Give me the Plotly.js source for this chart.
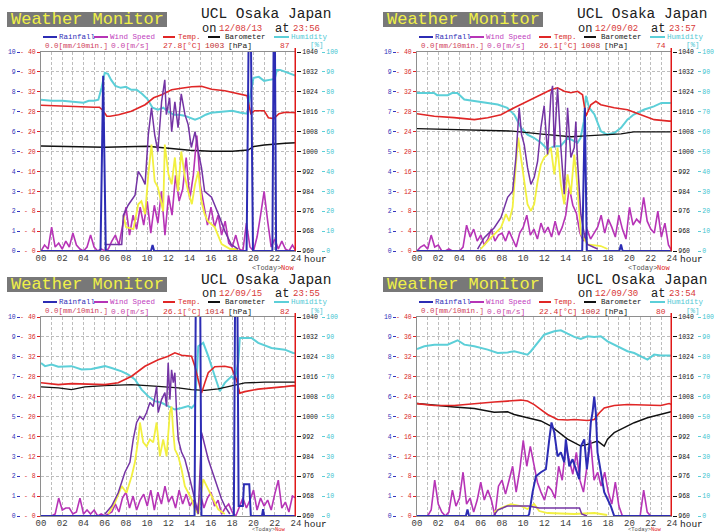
<!DOCTYPE html>
<html><head><meta charset="utf-8">
<script src="https://cdn.plot.ly/plotly-3.0.1.min.js"></script>
<style>html,body{margin:0;padding:0;background:#fff}#chart{width:715px;height:532px}</style>
</head><body><div id="chart"></div>
<script>
// ---------- tick labels ----------
const hourTicks  = [0,2,4,6,8,10,12,14,16,18,20,22,24];
const hourLabels = ["00","02","04","06","08","10","12","14","16","18","20","22","24"];

// ---------- header values ----------
const panelDates = ["12/08/13","12/09/02","12/09/15","12/09/30"];
const panelTimes = ["23:56","23:57","23:55","23:54"];
const nowRain = ["0.0","0.0","0.0","0.0"];
const nowWind = ["0.0","0.0","0.0","0.0"];
const nowTemp = ["27.8","26.1","26.1","22.4"];
const nowBaro = ["1003","1008","1014","1002"];
const nowHum  = ["87","74","82","80"];

// ---------- panel 1 (12/08/13) ----------
const p1HumHours = [0,1,2,3,3.5,4,4.5,5,5.4,5.7,6,6.3,6.6,7,7.5,8,8.5,9,9.5,10,10.5,11,11.5,12,12.5,13,13.5,14,14.5,15,15.5,16,17,18,18.8,19.4,19.75,20,20.5,21,21.5,22,22.2,22.5,23,23.5,24];
const p1Hum = [76,75.5,75.5,75,74.5,74.5,75.5,75.5,76,82,89.5,89,86,83,82,82.5,81,81,79,76.5,72,71,72,70,68.5,68.5,68,67,66,67,68.5,69.5,70,70.5,69.5,69,80,87,87.5,85.5,86,86.5,91,91,90,89,88];
const p1TempHours = [0,1,2,3,4,5,5.5,5.8,6.2,6.5,7.3,8.5,9.8,10.6,11.35,12.3,13.2,14.2,15.1,16.05,17.3,18.55,19.4,19.6,19.75,20.1,21.0,21.4,21.9,22.4,23,24];
const p1Temp = [29.3,29.2,29.2,29.1,29.0,28.9,28.9,28.3,27.1,27.1,27.4,28.1,29.4,30.8,31.4,32.4,32.7,33.0,33.1,32.5,32.2,31.6,31.2,29.0,27.6,28.2,28.2,26.8,26.6,27.6,27.9,27.8];
const p1BaroHours = [0,2,4,6,8,10,12,14,16,18,19.5,20,21,22,23,24];
const p1Baro = [1002.2,1002.0,1001.8,1001.7,1001.9,1002.1,1001.3,1000.5,1000.1,1000.1,1000.6,1002.0,1002.6,1003.1,1003.3,1003.5];
const p1RainHours = [0,5.6,5.85,6.1,10.35,10.5,10.65,19.35,19.6,19.7,19.95,21.78,21.93,21.98,22.13,24];
const p1Rain = [0,0,8.8,0,0,0.3,0,0,14,14,0,0,14,14,0,0];
const p1GustHours = [6.0,7.6,7.75,8.2,8.85,9.15,9.5,9.8,10.1,10.4,10.7,11.0,11.35,11.65,11.8,12.1,12.3,12.6,12.9,13.2,13.55,13.85,14.15,14.5,14.8,15.1,15.4,16.05,16.7,17.3,17.9,18.55];
const p1Gust = [0.33,0.33,1.8,2.3,2.8,4.0,3.7,3.35,5.85,7.2,5.85,5.0,7.5,8.6,6.85,7.7,6.0,7.5,6.2,7.9,6.85,6.35,5.2,6.0,5.0,4.2,3.0,2.7,1.85,1.0,0.33,0.1];
const p1SunHours = [7.75,8.0,8.7,9.15,9.45,9.8,10.1,10.4,10.7,11.0,11.5,11.65,12.0,12.3,12.6,12.9,13.2,13.55,13.85,14.2,14.5,14.8,15.1,15.4,15.7,16.35,17.0,17.8,18.55];
const p1Sun = [1.8,1.2,1.1,2.35,2.5,1.85,3.85,5.35,3.5,3.2,2.0,5.35,3.85,3.35,4.7,3.0,5.0,3.7,3.0,2.35,3.35,4.0,2.5,1.85,1.5,1.2,0.35,0.1,0.1];
const p1Wind = [0,0.3,0.1, 1.2,0.2,0.4, 0.1,0.5,0.2, 0.9,0.3,0.1, 0,0.2,0.8, 0.2,0,0.1, 0,0.1,0.5, 0.8,0.3,1.2, 2.2,0.8,1.8, 1.1,2.2,1.3, 2.5,0.9,2.3, 1.4,3.0,0.8, 2.8,1.8,3.8, 2.5,3.1,4.7, 2.6,3.8,5.8, 3.3,2.3,1.3, 2.2,1.2,1.8, 0.8,1.5,0.4, 0.2,0.8,0.1, 0,1.4,0.2, 0,0.7,1.8, 3.0,1.5,0.2, 0.6,0.1,0.5, 0.1,0,0.3, 0];

// ---------- panel 2 (12/09/02) ----------
const p2HumHours = [0,1.6,1.9,2.9,3.3,3.8,4.45,5.4,6.65,7.6,8.5,9.15,9.8,10.4,11.0,11.7,12.3,12.9,13.5,14.2,14.8,15.1,15.4,15.7,15.9,16.2,16.7,17.3,17.9,18.6,19.2,19.8,20.4,21.4,22.3,23,24];
const p2Hum = [79.4,79.4,78.3,78.3,79.4,79.4,76.1,75.3,74.4,73.6,71.9,68.6,61.9,58.5,56.9,54.3,51,52.7,52.7,56.9,55.2,54.3,56.9,65,78,72,68.6,60.2,58.5,59.4,61.9,66,68.6,71.1,72.7,74.4,74.4];
const p2TempHours = [0,1.63,3.5,5.4,6.65,7.9,9.15,10.4,11.66,12.6,13.23,13.86,14.48,15.11,15.58,15.9,16.36,16.83,17.3,18.56,19.81,21.07,22.32,23.73,24];
const p2Temp = [27.6,27.1,26.8,26.4,26.8,27.4,28.8,30.1,31.4,32.4,32.8,32.1,31.8,32.1,31.4,27.1,29.4,30.1,29.4,28.8,28.4,27.4,26.4,26.1,26.1];
const p2BaroHours = [0,3,6,9,12,13.5,14.5,15.5,17.3,19.2,20.4,24];
const p2Baro = [1009.2,1008.9,1008.8,1008.2,1006.9,1006.2,1005.9,1006.2,1006.6,1007.1,1007.9,1007.9];
const p2RainHours = [0,15.55,15.8,15.98,19.05,19.2,19.35,24];
const p2Rain = [0,0,7.2,0,0,0.33,0,0];
const p2GustHours = [5.7,6.33,7.27,7.9,8.53,9.0,9.31,9.62,9.84,10.09,10.4,10.72,11.03,11.35,11.66,11.97,12.29,12.45,12.6,12.76,12.92,13.23,13.54,13.86,14.17,14.48,14.8,14.95,15.11,15.42,15.74,16.05,17.0];
const p2Gust = [0.1,0.67,1.17,1.67,2.7,3.0,4.7,7.2,5.85,5.35,4.2,3.35,3.7,4.5,6.2,7.3,4.85,6.2,7.85,8.3,5.2,8.2,5.2,2.85,7.2,4.7,5.2,6.5,4.5,1.85,0.85,0.33,0.1];
const p2SunHours = [6.0,6.96,7.9,8.37,8.68,9.0,9.31,9.53,9.78,10.09,10.4,10.72,11.03,11.35,11.66,11.97,12.29,12.6,12.92,13.23,13.54,13.86,14.17,14.48,14.8,15.11,15.42,16.05,17.3,17.93];
const p2Sun = [0.1,0.67,1.17,1.85,1.5,2.2,4.35,5.7,4.7,3.5,2.35,2.0,2.35,3.5,4.35,4.7,4.85,5.2,3.85,5.2,3.35,2.35,3.85,2.85,4.85,3.2,0.85,0.33,0.25,0.1];
const p2Wind = [0,0.2,0.3, 0.1,0.8,0.2, 0.3,0,0, 0.1,0,0, 0,0.2,1.3, 0.7,1.1,0.5, 0.8,0.3,0.6, 1.1,0.5,0.8, 0.9,0.5,1.0, 0.6,0.2,0.9, 1.2,1.8,0.8, 1.1,0.6,1.4, 0.9,1.2,0.7, 1.5,0.8,1.2, 1.8,3.2,2.3, 1.9,0.9,0.5, 1.1,0.6,0.9, 1.2,1.8,0.9, 1.6,1.2,0.7, 1.8,1.1,0.6, 2.2,1.3,1.6, 1.4,2.7,1.5, 1.1,0.9,2.0, 0.7,1.4,0.3, 0];

// ---------- panel 3 (12/09/15) ----------
const p3HumHours = [0,0.38,1.0,1.63,2.88,3.82,4.76,6.02,6.65,7.59,8.21,8.84,9.47,10.09,10.72,11.35,11.97,12.6,13.23,13.86,14.17,14.48,14.65,14.8,15.27,15.74,16.36,16.83,17.3,17.93,18.24,18.56,18.71,19.81,20.44,21.69,22.95,23.73,24];
const p3Hum = [76.9,75.3,76.1,75,75.3,73.6,73.9,75.3,74.4,72.7,71.1,68.6,63.5,60.2,57.7,56.9,55.2,53.5,54.3,55.2,54.3,56,70,85.3,87,80.3,70.2,62.7,66.9,70.2,68.6,77,89.5,89.5,87,84.4,83.6,81.9,81.8];
const p3TempHours = [0,1.63,2.88,4.76,6.02,7.27,8.53,9.78,11.03,11.97,12.6,13.23,14.17,14.48,14.8,15.11,15.42,15.74,16.36,17.3,17.93,18.4,18.71,19.18,20.44,21.69,22.95,23.73,24];
const p3Temp = [26.8,26.4,26.6,26.4,26.4,26.8,28.1,30.1,31.4,32.1,32.8,32.3,32.1,30.1,27.4,24.7,26.8,28.8,30.0,30.1,29.8,27.4,24.7,25.0,25.5,25.7,26.0,26.2,26.1];
const p3BaroHours = [0,1.63,2.88,4.13,6.02,8.53,11.03,12.92,14.17,15.42,16.68,17.93,19.18,21.07,24];
const p3Baro = [1011.9,1011.5,1010.8,1011.9,1012.4,1012.8,1012.1,1011.5,1010.8,1010.5,1011.1,1012.4,1013.5,1013.8,1013.8];
const p3RainHours = [0,14.45,14.6,14.95,15.1,18.15,18.3,18.45,18.6,19.0,19.1,19.6,19.75,20.8,20.9,21.0,24];
const p3Rain = [0,0,14,14,0,0,14,14,0.5,0.5,1.6,1.6,0,0,0.35,0,0];
const p3GustHours = [6.02,6.65,7.27,7.59,7.9,8.37,8.68,9.0,9.31,9.62,9.94,10.25,10.56,10.88,11.03,11.35,11.66,11.82,11.97,12.13,12.29,12.45,12.6,12.76,12.92,13.23,13.54,13.86,14.17,14.48,14.8,15.11,15.42,15.74,16.05,16.36,16.68,16.99,17.3,17.77];
const p3Gust = [0.1,0.5,1.17,1.67,2.2,2.7,3.85,4.7,5.0,4.85,5.2,5.7,5.5,6.5,5.2,5.85,6.2,5.5,7.7,5.85,7.35,6.7,7.2,5.2,3.85,3.2,2.85,2.2,1.5,0.85,0.1,4.2,3.5,2.85,2.35,1.85,1.35,0.85,0.5,0.1];
const p3SunHours = [6.33,6.96,7.59,8.05,8.53,8.84,9.15,9.31,9.62,9.94,10.25,10.56,10.88,11.19,11.5,11.82,12.13,12.29,12.45,12.6,12.92,13.23,13.54,13.86,14.17,14.48,14.8,15.27,15.58,15.9,16.21,16.68,17.3];
const p3Sun = [0.1,0.67,1.5,1.17,2.0,2.7,3.85,4.7,3.7,3.5,3.85,3.7,4.7,3.0,3.85,3.0,5.2,5.5,4.2,3.35,3.0,2.35,1.5,1.17,0.85,0.33,0.1,1.85,1.5,1.17,0.85,0.33,0.1];
const p3Wind = [0,0,0, 0,0.1,0.9, 0.3,0.4,0.4, 0.1,0.2,0.9, 0.1,0.3,0.1, 0.3,0,0.1, 0,0.1,0.2, 0.6,0.2,0.9, 1.2,0.4,1.0, 0.3,0.8,1.1, 0.5,1.3,0.3, 1.2,0.6,1.5, 0.7,1.0,0.4, 1.3,0.6,1.1, 0.5,0.8,0.2, 1.1,0.4,0.9, 1.2,0.5,0.8, 0.1,0.4,0.6, 0.2,0,0.5, 0.9,0.4,0.8, 1.3,0.3,0.9, 0.5,0.8,0.3, 1.1,1.8,0.4, 0.7,0.2,1.0, 0.9];

// ---------- panel 4 (12/09/30) ----------
const p4HumHours = [0,0.69,1.63,2.88,3.82,4.45,5.39,6.65,7.59,8.53,9.15,9.78,10.4,10.72,11.35,11.97,12.92,13.54,14.17,14.8,15.42,16.05,16.68,17.3,17.93,18.56,19.18,19.81,20.44,21.07,21.69,22.32,22.95,23.73,24];
const p4Hum = [83.9,85.3,86.1,86.1,88.3,86.1,85.3,83.6,81.9,82.2,82.8,81.9,81.1,82.8,87,91.1,92.8,93.3,91.6,90,89,90.3,90,90.3,87.8,86.1,84.4,82.8,81.9,80.3,78.6,81.1,80.6,80.6,80.5];
const p4TempHours = [0,1.63,3.5,5.39,7.27,8.53,9.78,10.4,11.03,11.66,12.29,13.23,14.17,14.8,15.42,16.05,16.68,17.15,17.62,18.56,19.81,21.69,22.95,23.73,24];
const p4Temp = [22.6,22.2,22.2,22.6,22.9,23.1,23.3,23.1,22.4,21.4,20.4,19.4,19.3,19.4,19.3,19.2,19.4,20.7,21.7,22.2,22.4,22.2,22.2,22.6,22.4];
const p4BaroHours = [0,1.63,3.5,5.39,7.27,8.53,9.15,10.4,11.66,12.6,13.54,14.17,14.8,15.42,16.05,17.0,17.62,17.93,18.56,19.5,20.44,21.69,22.95,23.73,24];
const p4Baro = [1005.2,1004.5,1003.8,1003.2,1001.7,1001.9,1000.8,999.5,998.2,996.1,992.8,990.9,989.5,988.1,988.8,990.1,988.1,990.9,993.5,995.6,997.5,999.5,1000.9,1001.7,1002.0];
const p4RainHours = [0,4.6,4.75,4.9,10.45,10.56,10.88,11.19,11.66,12.13,12.45,12.66,12.92,13.23,13.54,13.86,14.01,14.33,14.64,14.95,15.27,15.42,15.74,15.99,16.21,16.36,16.52,16.68,16.83,16.99,17.3,17.62,17.93,18.24,18.56,24];
const p4Rain = [0,0,0.33,0,0,0.1,1.2,2.0,2.2,2.35,3.85,4.7,4.2,3.0,3.2,2.7,3.85,2.5,2.85,2.35,1.85,3.5,3.85,2.35,3.5,4.7,5.2,6.0,5.2,3.2,2.2,1.2,0.85,0.5,0,0];
const p4GustHours = [7.2,7.6,8.5,10.5,11.5,15.3,15.5,16.0];
const p4Gust = [0,0.3,0.5,0.5,0.4,0.4,0.1,0];
const p4SunHours = [7.27,7.9,8.84,9.78,10.4,11.03,11.5,12.3,14.8,16.7,17.9];
const p4Sun = [0.2,0.4,0.6,0.5,0.35,0.6,0.25,0.15,0.1,0.15,0.05];
const p4Wind = [0,0,0, 0,0.3,1.8, 0.6,0.2,0, 0.2,1.3,0.5, 0.9,2.2,0.6, 0.9,0.2,0.8, 1.7,0.8,1.3, 0.8,0,1.5, 1.8,1.1,1.8, 2.5,1.2,2.3, 3.8,2.5,3.5, 2.6,1.7,1.2, 0.8,1.5,1.3, 0.9,2.5,1.8, 3.5,2.8,2.1, 3.2,1.8,1.2, 2.5,3.8,1.8, 2.2,1.5,2.2, 1.2,0.6,1.7, 0.5,0,0, 0,0,0, 0,1.3,0.2, 0,0,0, 0,0,0, 0];

// ---------- assemble ----------
const panels = [
  {hh:p1HumHours,h:p1Hum,th:p1TempHours,t:p1Temp,bh:p1BaroHours,b:p1Baro,rh:p1RainHours,r:p1Rain,gh:p1GustHours,g:p1Gust,sh:p1SunHours,s:p1Sun,w:p1Wind},
  {hh:p2HumHours,h:p2Hum,th:p2TempHours,t:p2Temp,bh:p2BaroHours,b:p2Baro,rh:p2RainHours,r:p2Rain,gh:p2GustHours,g:p2Gust,sh:p2SunHours,s:p2Sun,w:p2Wind},
  {hh:p3HumHours,h:p3Hum,th:p3TempHours,t:p3Temp,bh:p3BaroHours,b:p3Baro,rh:p3RainHours,r:p3Rain,gh:p3GustHours,g:p3Gust,sh:p3SunHours,s:p3Sun,w:p3Wind},
  {hh:p4HumHours,h:p4Hum,th:p4TempHours,t:p4Temp,bh:p4BaroHours,b:p4Baro,rh:p4RainHours,r:p4Rain,gh:p4GustHours,g:p4Gust,sh:p4SunHours,s:p4Sun,w:p4Wind}
];

const W = 715, H = 532;
const MONO = "Liberation Mono, DejaVu Sans Mono, monospace";
const origins = [[0,0],[376,0],[0,265],[376,265]];
const C = {rain:'#2c2cb4', wind:'#b634b6', gust:'#7434a4', sun:'#f2f040', temp:'#e02626', baro:'#111111', hum:'#5ccfd8', grid:'#bdbdbd', frame:'#8e8e8e'};
const GRIDDASH = '3px,2px';

const px = x => x / W;
const py = y => 1 - y / H;

const data = [];
const layout = {
  width: W, height: H, margin: {l:0, r:0, t:0, b:0},
  paper_bgcolor: '#ffffff', plot_bgcolor: '#ffffff', showlegend: false,
  shapes: [], annotations: []
};

function ann(p, text, x, y, color, size, xanchor) {
  const o = origins[p];
  layout.annotations.push({xref:'paper', yref:'paper', x: px(o[0]+x), y: py(o[1]+y), text: text,
    showarrow:false, xanchor: xanchor || 'left', yanchor:'middle', borderpad:0,
    font:{family:MONO, size:size, color:color}});
}
function seg(p, x0, x1, y, color) {
  const o = origins[p];
  layout.shapes.push({type:'line', xref:'paper', yref:'paper', x0:px(o[0]+x0), x1:px(o[0]+x1), y0:py(o[1]+y), y1:py(o[1]+y), line:{color:color, width:2}});
}

panels.forEach((d, p) => {
  const o = origins[p];
  const xi = p + 1;
  const yH = 4*p + 1, yB = 4*p + 2, yT = 4*p + 3, yR = 4*p + 4;
  const xa = 'x' + xi;
  const lowRow = o[1] > 0;
  const dom = [py(o[1] + 251), py(o[1] + 52)];
  const tf = (c) => ({family: MONO, size: 6.5, color: c});

  layout['xaxis' + (xi === 1 ? '' : xi)] = {
    domain: [px(o[0] + 41), px(o[0] + 296)], range: [0, 24], anchor: 'y' + yH,
    tickmode: 'array', tickvals: hourTicks, ticktext: hourLabels, ticks: '',
    tickfont: {family: MONO, size: 9, color: '#3a3a3a'}, ticklabelstandoff: -2,
    showgrid: true, gridcolor: C.grid, griddash: GRIDDASH, gridwidth: 1,
    minor: {dtick: 1, tick0: 0, showgrid: true, gridcolor: C.grid, griddash: GRIDDASH, ticks: ''},
    showline: true, linecolor: C.frame, linewidth: 1, mirror: true, zeroline: false, fixedrange: true
  };
  const yk = n => 'yaxis' + (n === 1 ? '' : n);
  layout[yk(yH)] = {
    domain: dom, range: [0, 100], dtick: 10, tick0: 0, anchor: 'free', position: px(o[0] + 321), side: 'right',
    showgrid: true, gridcolor: C.grid, griddash: GRIDDASH, zeroline: false, showline: false,
    ticks: 'outside', ticklen: 3, tickcolor: C.hum, tickfont: tf('#40c4d0'), fixedrange: true
  };
  layout[yk(yB)] = {
    domain: dom, overlaying: 'y' + yH, range: [960, 1040], dtick: 8, tick0: 960, anchor: xa, side: 'right',
    showgrid: false, zeroline: false, showline: false, ticks: 'outside', ticklen: 4, tickcolor: '#111',
    tickfont: tf('#111'), fixedrange: true
  };
  layout[yk(yT)] = {
    domain: dom, overlaying: 'y' + yH, range: [0, 40], dtick: 4, tick0: 0, anchor: xa, side: 'left',
    showgrid: false, zeroline: false, showline: true, linecolor: C.frame, linewidth: 1,
    ticks: 'outside', ticklen: 3, tickcolor: C.temp, tickprefix: '- ', tickfont: tf('#d82a2a'), fixedrange: true
  };
  layout[yk(yR)] = {
    domain: dom, overlaying: 'y' + yH, range: [0, 10], dtick: 1, tick0: 0, anchor: 'free', position: px(o[0] + 20), side: 'left',
    showgrid: false, zeroline: false, showline: false, ticks: 'outside', ticklen: 3, tickcolor: '#3636c0',
    tickfont: tf('#3030b8'), fixedrange: true
  };

  const L = (x, y, ax, color, width) => ({type: 'scatter', mode: 'lines', x: x, y: y, xaxis: xa, yaxis: 'y' + ax,
    line: {color: color, width: width}, hoverinfo: 'skip'});
  data.push(L(d.hh, d.h, yH, C.hum, 2));
  data.push(L(d.bh, d.b, yB, C.baro, 1.4));
  data.push(L(d.th, d.t, yT, C.temp, 1.6));
  data.push({type: 'scatter', mode: 'lines', x0: 0, dx: 1/3, y: d.w, xaxis: xa, yaxis: 'y' + yR,
    line: {color: C.wind, width: 1.6}, hoverinfo: 'skip'});
  data.push(L(d.sh, d.s, yR, C.sun, 1.8));
  data.push(L(d.gh, d.g, yR, C.gust, 1.5));
  data.push(L(d.rh, d.r, yR, C.rain, 2));

  // "now" marker
  layout.shapes.push({type: 'line', xref: xa, yref: 'paper', x0: 24, x1: 24, y0: py(o[1] + 251), y1: py(o[1] + 48),
    line: {color: '#e01818', width: 3}, layer: 'above'});

  // header
  layout.shapes.push({type: 'rect', xref: 'paper', yref: 'paper', x0: px(o[0] + 7), x1: px(o[0] + 167),
    y0: py(o[1] + 27), y1: py(o[1] + 12), fillcolor: '#787878', line: {width: 0}});
  ann(p, 'Weather Monitor', 87, 19.5, '#f0f048', 17, 'center');
  ann(p, 'UCL Osaka Japan', 200, 14.5, '#202020', 14.5);
  ann(p, 'on', 201, 28.5, '#202020', 12);
  ann(p, panelDates[p], 218, 28.5, '#d83838', 9);
  ann(p, 'at', 274, 28.5, '#202020', 12);
  ann(p, panelTimes[p], 292, 28.5, '#d83838', 9);

  // legend row
  seg(p, 43, 57, 37, C.rain);
  ann(p, 'Rainfall', 58, 36.5, '#3030b8', 7.5);
  seg(p, 94, 108, 37, C.wind);
  ann(p, 'Wind Speed', 109, 36.5, '#c040c0', 7.5);
  seg(p, 163, 175, 37, C.temp);
  ann(p, 'Temp.', 177, 36.5, '#d82a2a', 7.5);
  seg(p, 208, 220, 37, '#111');
  ann(p, 'Barometer', 224, 36.5, '#202020', 7.5);
  seg(p, 274, 289, 37, C.hum);
  ann(p, 'Humidity', 290, 36.5, '#50c8d4', 7.5);

  // current values row
  ann(p, nowRain[p] + '[mm/10min.]', 44, 46, '#d0405a', 7.5);
  ann(p, nowWind[p] + '[m/s]', 110, 46, '#c848a8', 8);
  ann(p, nowTemp[p] + '[°C]', 162, 46, '#d83030', 8);
  ann(p, nowBaro[p], 204, 46, '#c03030', 8);
  ann(p, '[hPa]', 227, 46, '#202020', 8);
  ann(p, nowHum[p], 291, 46, '#d83030', 8, 'right');
  ann(p, '[%]', 309, 45.5, '#50c8d4', 7.5);

  // bottom
  ann(p, 'hour', 303, 259.5, '#202020', 9.5);
  ann(p, '&lt;Today&gt;', 251, lowRow ? 264.4 : 267.5, '#505050', lowRow ? 5.5 : 7);
  ann(p, 'Now', lowRow ? 274 : 280, lowRow ? 264.4 : 267.5, '#e02020', lowRow ? 5.5 : 7);
});

Plotly.newPlot('chart', data, layout, {staticPlot: true, displayModeBar: false});
</script>
</body></html>
